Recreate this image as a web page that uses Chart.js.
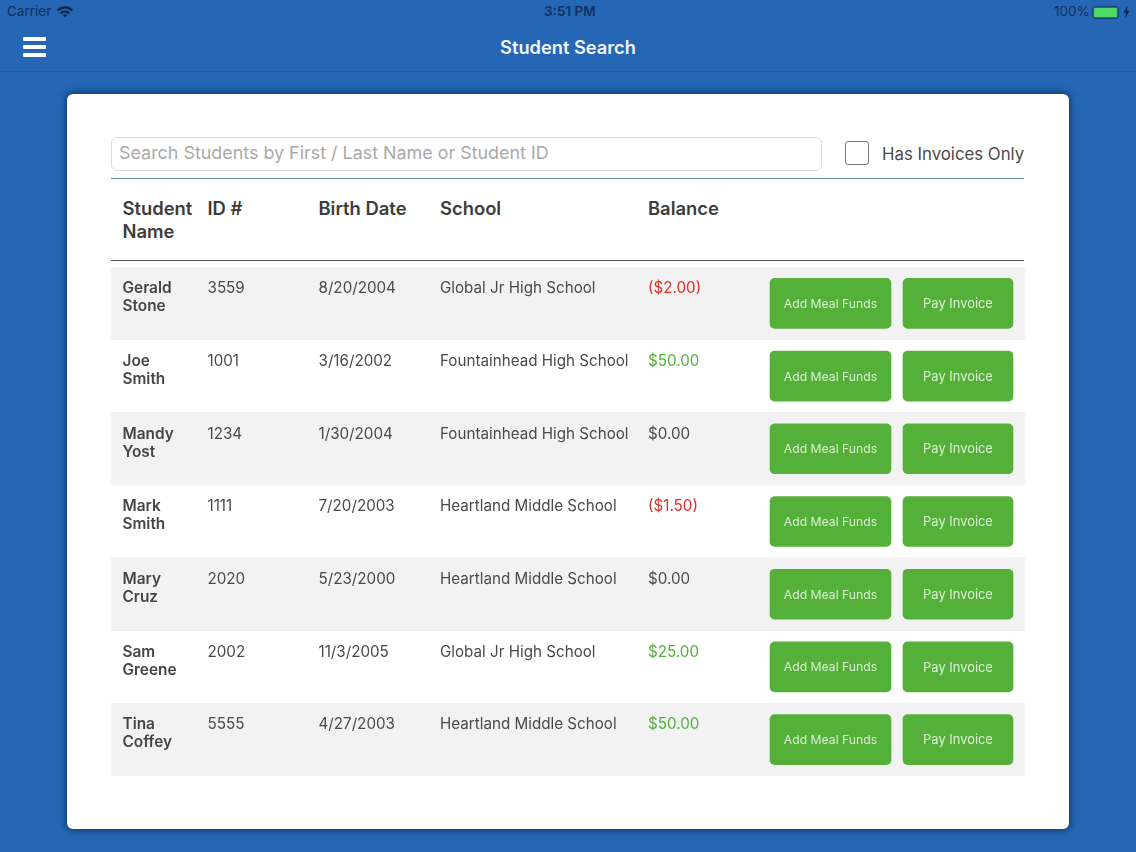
<!DOCTYPE html>
<html>
<head>
<meta charset="utf-8">
<title>Student Search</title>
<script src="https://cdn.jsdelivr.net/npm/chart.js@4/dist/chart.umd.min.js"></script>
<style>
html,body{margin:0;padding:0;width:1136px;height:852px;overflow:hidden;background:#2567b4;font-family:Inter,"Noto Sans",sans-serif;}
.abs{position:absolute;white-space:nowrap;line-height:1;}
#nav{position:absolute;left:0;top:0;width:1136px;height:71px;border-bottom:1px solid #1f5ba3;background:#2567b4;}
#card{position:absolute;left:67px;top:94px;width:1002px;height:735px;background:#fff;border-radius:6px;box-shadow:0 0 7px 1px rgba(8,30,70,.75);}
#search{position:absolute;left:111px;top:137px;width:709px;height:32px;border:1px solid #dcdcdc;border-radius:6px;background:#fff;}
#check{position:absolute;left:845px;top:141px;width:22px;height:22px;border:1px solid #777;border-radius:3px;background:#fff;}
.rule{position:absolute;left:111px;width:913px;}
#wrap{position:absolute;left:111px;top:267px;width:914px;height:509px;}
.bar{position:absolute;left:23px;width:23px;height:4px;background:#fff;border-radius:1px;}
.th{font-size:18.4px;font-weight:600;color:#3c3c3c;}
</style>
</head>
<body>
<div id="nav"></div>
<div class="abs" style="left:7px;top:5px;font-size:13.5px;color:#12305f;">Carrier</div>
<svg class="abs" style="left:56px;top:5px" width="18" height="13" viewBox="0 0 18 13"><path d="M1 4.5a11.5 11.5 0 0 1 16 0l-1.6 1.7a9.2 9.2 0 0 0-12.8 0z M4 7.5a7.3 7.3 0 0 1 10 0l-1.6 1.7a5 5 0 0 0-6.8 0z M6.8 10.3a3.2 3.2 0 0 1 4.4 0L9 12.6z" fill="#0c2447"/></svg>
<div class="abs" style="left:544px;top:5px;font-size:13.5px;font-weight:600;color:#12305f;">3:51 PM</div>
<div class="abs" style="left:1054px;top:5px;font-size:13.5px;color:#12305f;">100%</div>
<div class="abs" style="left:1092px;top:6px;width:25px;height:11px;border:1px solid #17407a;border-radius:3px;box-sizing:content-box;"><div style="margin:1px;height:9px;width:23px;background:#4cd964;border-radius:1px;"></div></div>
<svg class="abs" style="left:1123px;top:6px" width="7" height="12" viewBox="0 0 7 12"><path d="M4.5 0L0.5 6.8h2.4L2.2 12 6.5 4.8H4z" fill="#0c2447"/></svg>
<div class="bar" style="top:37px"></div><div class="bar" style="top:45px"></div><div class="bar" style="top:53px"></div>
<div class="abs" style="left:0;width:1136px;text-align:center;top:38px;font-size:18.25px;font-weight:600;color:#f2f6fb;">Student Search</div>
<div id="card"></div>
<div id="search"></div>
<div class="abs" style="left:119px;top:144px;font-size:17.9px;color:#a9a9a9;">Search Students by First / Last Name or Student ID</div>
<div id="check"></div>
<div class="abs" style="left:882px;top:145.5px;font-size:16.8px;color:#4a4a4a;">Has Invoices Only</div>
<div class="rule" style="top:178px;height:1px;background:#5f8fa8;"></div>
<div class="rule" style="top:260px;height:1px;background:#555;"></div>
<div class="abs th" style="left:122.5px;top:199px;">Student</div>
<div class="abs th" style="left:122.5px;top:222px;">Name</div>
<div class="abs th" style="left:207.5px;top:199px;">ID #</div>
<div class="abs th" style="left:318.5px;top:199px;">Birth Date</div>
<div class="abs th" style="left:440px;top:199px;">School</div>
<div class="abs th" style="left:648px;top:199px;">Balance</div>
<div id="wrap"><canvas id="c" width="914" height="509"></canvas></div>
<script>
const firstNames = ["Gerald","Joe","Mandy","Mark","Mary","Sam","Tina"];
const lastNames  = ["Stone","Smith","Yost","Smith","Cruz","Greene","Coffey"];
const studentIds = ["3559","1001","1234","1111","2020","2002","5555"];
const birthDates = ["8/20/2004","3/16/2002","1/30/2004","7/20/2003","5/23/2000","11/3/2005","4/27/2003"];
const schools    = ["Global Jr High School","Fountainhead High School","Fountainhead High School","Heartland Middle School","Heartland Middle School","Global Jr High School","Heartland Middle School"];
const balances   = [-2,50,0,-1.5,0,25,50];
const addLabel = "Add Meal Funds";
const payLabel = "Pay Invoice";

const tableWidth = 914;
const col = {name:11.5, id:96.5, birth:207.5, school:329, balance:537};
const addSpan = [659,780], paySpan = [792,902];
const money = v => v < 0 ? "($" + Math.abs(v).toFixed(2) + ")" : "$" + v.toFixed(2);
const moneyColor = v => v < 0 ? "#dc2f26" : v > 0 ? "#4fb33a" : "#4a4a4a";

const textPlugin = {
  id:"rowText",
  afterDatasetsDraw(chart){
    const {ctx, scales:{x,y}} = chart;
    ctx.save();
    ctx.textBaseline = "middle";
    firstNames.forEach((fn,i)=>{
      const cy = y.getPixelForValue(i);
      const top = cy - 14.8;
      ctx.textAlign = "left";
      ctx.font = "600 15.4px Inter, sans-serif";
      ctx.fillStyle = "#454545";
      ctx.fillText(fn, x.getPixelForValue(col.name), top);
      ctx.fillText(lastNames[i], x.getPixelForValue(col.name), top + 18);
      ctx.font = "400 15.2px Inter, sans-serif";
      ctx.fillStyle = "#4a4a4a";
      ctx.fillText(studentIds[i], x.getPixelForValue(col.id), top);
      ctx.fillText(birthDates[i], x.getPixelForValue(col.birth), top);
      ctx.fillText(schools[i], x.getPixelForValue(col.school), top);
      ctx.fillStyle = moneyColor(balances[i]);
      ctx.fillText(money(balances[i]), x.getPixelForValue(col.balance), top);
      ctx.textAlign = "center";
      ctx.fillStyle = "#d9f0d2";
      ctx.font = "400 12.2px Inter, sans-serif";
      ctx.fillText(addLabel, x.getPixelForValue((addSpan[0]+addSpan[1])/2), cy + .8);
      ctx.font = "400 12.9px Inter, sans-serif";
      ctx.fillText(payLabel, x.getPixelForValue((paySpan[0]+paySpan[1])/2), cy + .8);
    });
    ctx.restore();
  }
};

new Chart(document.getElementById("c"),{
  type:"bar",
  plugins:[textPlugin],
  data:{
    labels:firstNames.map((f,i)=>f+" "+lastNames[i]),
    datasets:[
      {label:"Row band",data:firstNames.map((_,i)=>i%2===0?[0,tableWidth]:null),backgroundColor:"#f2f2f3",barPercentage:1,categoryPercentage:1,order:3},
      {label:addLabel,data:firstNames.map(()=>addSpan),backgroundColor:"#55b03a",barThickness:50,borderRadius:5,borderSkipped:false,order:2},
      {label:payLabel,data:firstNames.map(()=>paySpan),backgroundColor:"#55b03a",barThickness:50,borderRadius:5,borderSkipped:false,order:1}
    ]
  },
  options:{
    indexAxis:"y",responsive:false,animation:false,devicePixelRatio:1,
    layout:{padding:0},
    plugins:{legend:{display:false},tooltip:{enabled:false},title:{display:false}},
    scales:{
      x:{type:"linear",display:false,min:0,max:tableWidth,grid:{display:false}},
      y:{type:"category",display:false,stacked:true,grid:{display:false}}
    },
    datasets:{bar:{grouped:false}}
  }
});
</script>
</body>
</html>
